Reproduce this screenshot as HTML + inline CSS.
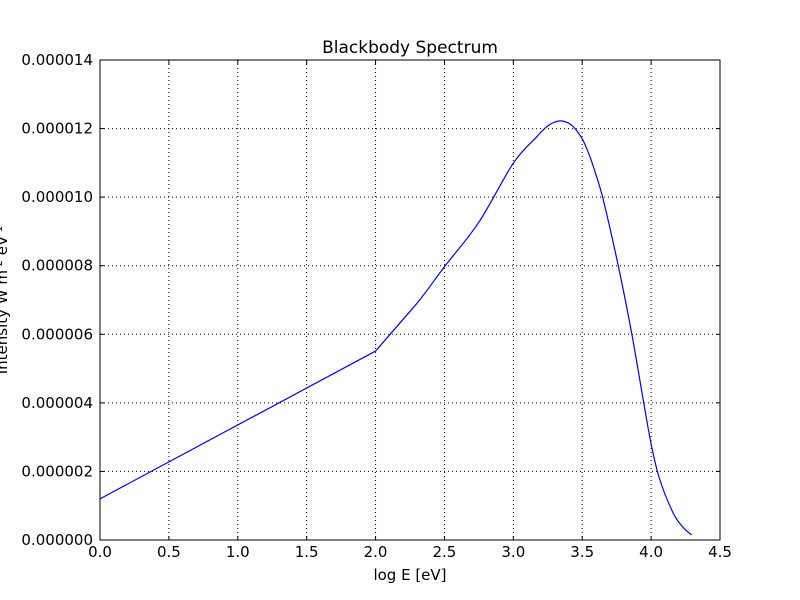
<!DOCTYPE html>
<html><head><meta charset="utf-8"><style>
html,body{margin:0;padding:0;background:#fff;}
svg{display:block;font-family:"DejaVu Sans","Liberation Sans",sans-serif;}
</style></head><body>
<svg id="chart" width="800" height="600" viewBox="0 0 800 600" xmlns="http://www.w3.org/2000/svg">
<rect width="800" height="600" fill="#fff"/>
<g id="grid"></g>
<g id="ticks"></g>
<g id="series"></g>
<rect x="100" y="60" width="620" height="480" fill="none" stroke="#000" stroke-width="1"/>
<text x="410" y="53" font-size="17" text-anchor="middle">Blackbody Spectrum</text>
<text x="410" y="580" font-size="15" text-anchor="middle">log E [eV]</text>
<text transform="translate(7,300) rotate(-90)" font-size="15" text-anchor="middle">Intensity W m<tspan baseline-shift="super" font-size="10">-2</tspan> eV<tspan baseline-shift="super" font-size="10">-1</tspan></text>
</svg>
<script>
const xTicks = [0, 0.5, 1.0, 1.5, 2.0, 2.5, 3.0, 3.5, 4.0, 4.5];
const xTickLabels = ["0.0","0.5","1.0","1.5","2.0","2.5","3.0","3.5","4.0","4.5"];
const yTicks = [0, 2, 4, 6, 8, 10, 12, 14];
const yTickLabels = ["0.000000","0.000002","0.000004","0.000006","0.000008","0.000010","0.000012","0.000014"];
const logE = [0, 2.0, 2.30, 2.5, 2.75, 3.0, 3.17, 3.25, 3.327, 3.39, 3.436, 3.50, 3.556, 3.60, 3.653, 3.763, 3.859, 3.943, 4.004, 4.064, 4.161, 4.23, 4.294];
const intensity = [1.2, 5.51, 6.90, 7.97, 9.27, 10.99, 11.76, 12.08, 12.22, 12.18, 12.05, 11.70, 11.18, 10.65, 9.92, 7.97, 6.03, 4.08, 2.72, 1.75, 0.78, 0.38, 0.146];

const NS = "http://www.w3.org/2000/svg";
const X0 = 100, X1 = 720, Y0 = 540, Y1 = 60;
function sx(v){ return X0 + (v - 0) / 4.5 * (X1 - X0); }
function sy(v){ return Y0 - (v - 0) / 14 * (Y0 - Y1); }
function mk(tag, attrs, parent){ const e = document.createElementNS(NS, tag); for (const k in attrs) e.setAttribute(k, attrs[k]); parent.appendChild(e); return e; }
const grid = document.getElementById('grid'), ticks = document.getElementById('ticks'), series = document.getElementById('series');

xTicks.forEach((v, i) => {
  const x = sx(v);
  if (i > 0 && i < xTicks.length - 1) {
    const g = mk('line', {x1:x, y1:Y1, x2:x, y2:Y0, stroke:'#000', 'stroke-width':1, 'stroke-dasharray':'1,3'}, grid);
    
    
  }
  const t1 = mk('line', {x1:x, y1:Y0, x2:x, y2:Y0-4, stroke:'#000'}, ticks);
  
  
  const t2 = mk('line', {x1:x, y1:Y1, x2:x, y2:Y1+4, stroke:'#000'}, ticks);
  
  
  const lb = mk('text', {x:x, y:557, 'font-size':15, 'text-anchor':'middle'}, ticks);
  lb.textContent = xTickLabels[i];
  
  
});
yTicks.forEach((v, i) => {
  const y = sy(v);
  if (i > 0 && i < yTicks.length - 1) {
    const g = mk('line', {x1:X0, y1:y, x2:X1, y2:y, stroke:'#000', 'stroke-width':1, 'stroke-dasharray':'1,3'}, grid);
    
    
  }
  const t1 = mk('line', {x1:X0, y1:y, x2:X0+4, y2:y, stroke:'#000'}, ticks);
  
  
  const t2 = mk('line', {x1:X1, y1:y, x2:X1-4, y2:y, stroke:'#000'}, ticks);
  
  
  const lb = mk('text', {x:93, y:y+5, 'font-size':15, 'text-anchor':'end'}, ticks);
  lb.textContent = yTickLabels[i];
  
  
});
// straight segments for the first two intervals, Catmull-Rom smoothing after
const P = logE.map((v, i) => [sx(v), sy(intensity[i])]);
let d = 'M' + P[0][0].toFixed(2) + ',' + P[0][1].toFixed(2) + ' L' + P[1][0].toFixed(2) + ',' + P[1][1].toFixed(2) + ' L' + P[2][0].toFixed(2) + ',' + P[2][1].toFixed(2);
for (let i = 2; i < P.length - 1; i++) {
  const p0 = P[i-1], p1 = P[i], p2 = P[i+1], p3 = P[Math.min(i+2, P.length-1)];
  const c1 = [p1[0] + (p2[0]-p0[0])/6, p1[1] + (p2[1]-p0[1])/6];
  const c2 = [p2[0] - (p3[0]-p1[0])/6, p2[1] - (p3[1]-p1[1])/6];
  d += ' C' + c1[0].toFixed(2) + ',' + c1[1].toFixed(2) + ' ' + c2[0].toFixed(2) + ',' + c2[1].toFixed(2) + ' ' + p2[0].toFixed(2) + ',' + p2[1].toFixed(2);
}
const line = mk('path', {d: d, fill:'none', stroke:'#0000ff', 'stroke-width':1.2, 'stroke-linejoin':'round'}, series);


</script>
</body></html>
